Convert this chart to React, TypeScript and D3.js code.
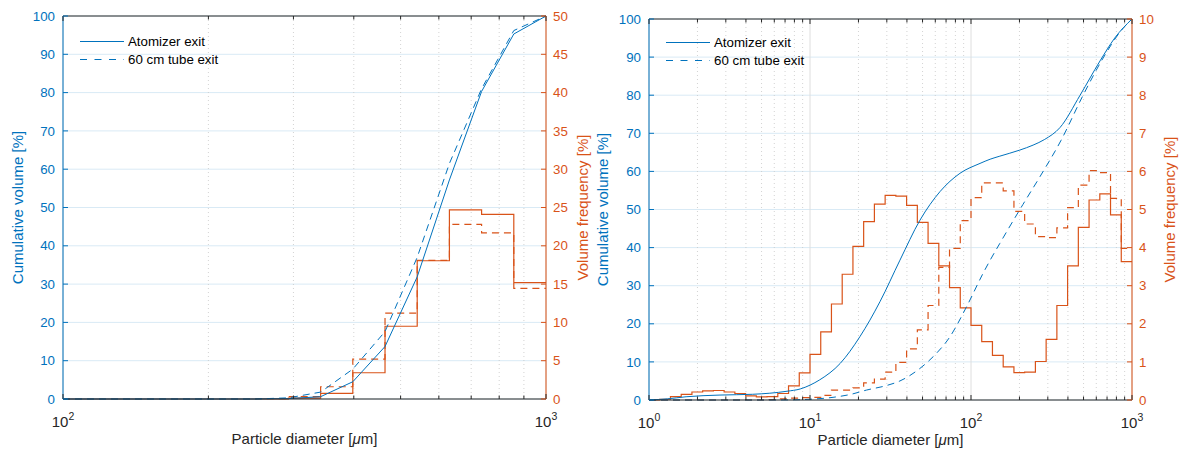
import React from "react";
import * as d3 from "d3";

const BLUE = "#0072BD";
const ORANGE = "#D95319";
const DARK = "#262626";
const FONT = "'Liberation Sans', Arial, Helvetica, sans-serif";

const seriesNames = ["Atomizer exit", "60 cm tube exit"];
const xLabelParts = ["Particle diameter [", "\u03bc", "m]"];
const yLeftLabel = "Cumulative volume [%]";
const yRightLabel = "Volume frequency [%]";

// ---------- left panel data ----------
const leftBinEdges = [100, 116.6, 135.9, 158.5, 184.8, 215.4, 251.2, 292.9, 341.5, 398.1, 464.2, 541.2, 631.0, 735.6, 857.7, 1000];
const leftFreqAtomizer = [0, 0, 0, 0, 0, 0, 0.02, 0.12, 0.74, 3.43, 9.5, 18.05, 24.7, 24.1, 15.2];
const leftFreqTube = [0, 0, 0, 0, 0, 0, 0.05, 0.3, 1.6, 5.2, 11.2, 18.1, 22.8, 21.7, 14.45];
const leftCumAtomizerD = [100, 250, 292.9, 341.5, 398.1, 464.2, 541.2, 631.0, 735.6, 857.7, 1000];
const leftCumAtomizerV = [0, 0, 0.1, 0.6, 4.5, 13.7, 31.9, 57.2, 80.3, 95.3, 100];
const leftCumTubeD = [100, 250, 292.9, 341.5, 398.1, 464.2, 541.2, 631.0, 735.6, 857.7, 1000];
const leftCumTubeV = [0, 0, 0.3, 1.8, 7.8, 17.6, 37.0, 61.5, 81.0, 96.2, 100];
const leftYTicks = [0, 10, 20, 30, 40, 50, 60, 70, 80, 90, 100];
const leftRTicks = [0, 5, 10, 15, 20, 25, 30, 35, 40, 45, 50];

// ---------- right panel data ----------
const rightBinEdges = [1, 1.166, 1.359, 1.585, 1.848, 2.154, 2.512, 2.929, 3.415, 3.981, 4.642, 5.412, 6.31, 7.356, 8.577,
  10, 11.66, 13.59, 15.85, 18.48, 21.54, 25.12, 29.29, 34.15, 39.81, 46.42, 54.12, 63.1, 73.56, 85.77,
  100, 116.6, 135.9, 158.5, 184.8, 215.4, 251.2, 292.9, 341.5, 398.1, 464.2, 541.2, 631.0, 735.6, 857.7, 1000];
const rightFreqAtomizer = [0, 0.02, 0.09, 0.15, 0.21, 0.24, 0.25, 0.21, 0.17, 0.11, 0.08, 0.09, 0.17, 0.37, 0.71,
  1.2, 1.79, 2.52, 3.3, 4.03, 4.68, 5.14, 5.37, 5.35, 5.11, 4.66, 4.11, 3.52, 2.95, 2.42,
  1.96, 1.53, 1.17, 0.87, 0.72, 0.73, 1.01, 1.59, 2.48, 3.52, 4.53, 5.25, 5.41, 4.86, 3.63];
const rightFreqTube = [0, 0, 0, 0, 0, 0, 0, 0, 0, 0, 0, 0.01, 0.03, 0.05, 0.06,
  0.07, 0.12, 0.26, 0.26, 0.32, 0.45, 0.55, 0.73, 0.99, 1.34, 1.84, 2.48, 3.48, 3.98, 4.71,
  5.31, 5.7, 5.7, 5.49, 4.95, 4.62, 4.29, 4.26, 4.52, 5.05, 5.64, 6.02, 5.97, 5.29, 3.98];
const rightCumAtomizerD = [1, 1.3, 1.7, 2.76, 4.4, 7.2, 8.7, 10, 11.5, 15.4, 20.4, 27.2, 36.2, 48.2, 64.2, 85.4, 113.8, 131.5, 151, 201, 243, 287, 357, 476, 633, 781, 1000];
const rightCumAtomizerV = [0, 0.3, 0.85, 1.3, 1.5, 2.3, 2.9, 3.9, 5.3, 9.6, 16.6, 25.8, 36.7, 47.2, 54.7, 59.5, 62.1, 63.2, 64.0, 65.6, 66.9, 68.4, 71.5, 80, 89, 95, 100];
const rightCumTubeD = [1, 5, 8, 10, 13.9, 18, 22.4, 29.9, 36.2, 48.2, 58.3, 74, 93.9, 119, 131.5, 151, 210, 268, 363, 497, 667, 850, 1000];
const rightCumTubeV = [0, 0, 0.05, 0.2, 0.7, 1.5, 2.6, 3.8, 5.0, 8.3, 11.4, 16.6, 24.5, 33.3, 36.7, 41.1, 51.3, 58.6, 68.2, 80, 90, 96.8, 100];
const rightYTicks = [0, 10, 20, 30, 40, 50, 60, 70, 80, 90, 100];
const rightRTicks = [0, 1, 2, 3, 4, 5, 6, 7, 8, 9, 10];

type PanelProps = {
  x0: number; x1: number; y0: number; y1: number;
  xDomain: [number, number];
  rMax: number; rTicks: number[]; yTicks: number[];
  edges: number[]; freqA: number[]; freqT: number[];
  cumAD: number[]; cumAV: number[]; cumTD: number[]; cumTV: number[];
  smooth: boolean;
  legendX: number; legendY: number;
  yLabelX: number; rLabelX: number;
};

function Panel(p: PanelProps) {
  const x = d3.scaleLog().domain(p.xDomain).range([p.x0, p.x1]);
  const yL = d3.scaleLinear().domain([0, 100]).range([p.y1, p.y0]);
  const yR = d3.scaleLinear().domain([0, p.rMax]).range([p.y1, p.y0]);
  const all = x.ticks();
  const isMajor = (t: number) => Math.abs(Math.log10(t) - Math.round(Math.log10(t))) < 1e-9;
  const majors = all.filter(isMajor);
  const minors = all.filter((t) => !isMajor(t));

  const stairs = (vals: number[]) => {
    const pts: [number, number][] = p.edges.map((e, i) => [e, vals[Math.min(i, vals.length - 1)]]);
    return d3.line<[number, number]>().x((d) => x(d[0])).y((d) => yR(d[1])).curve(d3.curveStepAfter)(pts) || "";
  };
  const cum = (ds: number[], vs: number[]) => {
    const pts: [number, number][] = ds.map((d, i) => [d, vs[i]]);
    return d3.line<[number, number]>().x((d) => x(d[0])).y((d) => yL(d[1]))
      .curve(p.smooth ? d3.curveMonotoneX : d3.curveLinear)(pts) || "";
  };
  const midY = (p.y0 + p.y1) / 2;

  return (
    <g fontFamily={FONT}>
      {p.yTicks.map((t) => (
        <line key={"hg" + t} x1={p.x0} x2={p.x1} y1={yL(t)} y2={yL(t)} stroke="#d9eaf5" strokeWidth={1} />
      ))}
      {minors.map((t) => (
        <line key={"vm" + t} x1={x(t)} x2={x(t)} y1={p.y0} y2={p.y1} stroke="#c8c8c8" strokeWidth={0.8} strokeDasharray="1,3" />
      ))}
      {majors.map((t) => (
        <line key={"vM" + t} x1={x(t)} x2={x(t)} y1={p.y0} y2={p.y1} stroke="#dedede" strokeWidth={1} />
      ))}

      <path d={stairs(p.freqT)} fill="none" stroke={ORANGE} strokeWidth={1.2} strokeDasharray="7,5" />
      <path d={stairs(p.freqA)} fill="none" stroke={ORANGE} strokeWidth={1.2} />

      <path d={cum(p.cumTD, p.cumTV)} fill="none" stroke={BLUE} strokeWidth={1} strokeDasharray="7,5" />
      <path d={cum(p.cumAD, p.cumAV)} fill="none" stroke={BLUE} strokeWidth={1} />

      <line x1={p.x0} x2={p.x1} y1={p.y1} y2={p.y1} stroke={DARK} strokeWidth={1} />
      <line x1={p.x0} x2={p.x1} y1={p.y0} y2={p.y0} stroke={DARK} strokeWidth={1} />
      <line x1={p.x0} x2={p.x0} y1={p.y0} y2={p.y1} stroke={BLUE} strokeWidth={1} />
      <line x1={p.x1} x2={p.x1} y1={p.y0} y2={p.y1} stroke={ORANGE} strokeWidth={1} />

      {all.map((t) => {
        const len = isMajor(t) ? 5 : 3.5;
        return (
          <g key={"xt" + t}>
            <line x1={x(t)} x2={x(t)} y1={p.y1} y2={p.y1 - len} stroke={DARK} strokeWidth={1} />
            <line x1={x(t)} x2={x(t)} y1={p.y0} y2={p.y0 + len} stroke={DARK} strokeWidth={1} />
          </g>
        );
      })}
      {majors.map((t) => (
        <text key={"xl" + t} x={x(t)} y={p.y1 + 28} textAnchor="middle" fontSize={15} fill={DARK}>
          10<tspan dy={-7} fontSize={10.5}>{Math.round(Math.log10(t))}</tspan>
        </text>
      ))}
      <text x={(p.x0 + p.x1) / 2} y={p.y1 + 45} textAnchor="middle" fontSize={15} fill={DARK}>
        {xLabelParts[0]}<tspan fontStyle="italic">{xLabelParts[1]}</tspan>{xLabelParts[2]}
      </text>

      {p.yTicks.map((t) => (
        <g key={"yl" + t}>
          <line x1={p.x0} x2={p.x0 + 5} y1={yL(t)} y2={yL(t)} stroke={BLUE} strokeWidth={1} />
          <text x={p.x0 - 8} y={yL(t)} dy="0.35em" textAnchor="end" fontSize={13.3} fill={BLUE}>{t}</text>
        </g>
      ))}
      {p.rTicks.map((t) => (
        <g key={"yr" + t}>
          <line x1={p.x1} x2={p.x1 - 5} y1={yR(t)} y2={yR(t)} stroke={ORANGE} strokeWidth={1} />
          <text x={p.x1 + 7} y={yR(t)} dy="0.35em" textAnchor="start" fontSize={13.3} fill={ORANGE}>{t}</text>
        </g>
      ))}
      <text transform={`translate(${p.yLabelX},${midY}) rotate(-90)`} textAnchor="middle" fontSize={15} fill={BLUE}>
        {yLeftLabel}
      </text>
      <text transform={`translate(${p.rLabelX},${midY}) rotate(-90)`} textAnchor="middle" fontSize={15} fill={ORANGE}>
        {yRightLabel}
      </text>

      {seriesNames.map((n, i) => {
        const ly = p.legendY + i * 18;
        return (
          <g key={"lg" + i}>
            <line x1={p.legendX} x2={p.legendX + 44} y1={ly} y2={ly} stroke={BLUE} strokeWidth={1}
              strokeDasharray={i === 1 ? "7,7.5" : undefined} />
            <text x={p.legendX + 48} y={ly} dy="0.35em" fontSize={13.3} fill="#000">{n}</text>
          </g>
        );
      })}
    </g>
  );
}

export default function App() {
  return (
    <svg width={1189} height={450} style={{ position: "absolute", left: 0, top: 0, background: "#fff" }}>
      <rect x={0} y={0} width={1189} height={450} fill="#fff" />
      <Panel x0={63} x1={546} y0={16} y1={399} xDomain={[100, 1000]}
        rMax={50} rTicks={leftRTicks} yTicks={leftYTicks}
        edges={leftBinEdges} freqA={leftFreqAtomizer} freqT={leftFreqTube}
        cumAD={leftCumAtomizerD} cumAV={leftCumAtomizerV} cumTD={leftCumTubeD} cumTV={leftCumTubeV}
        smooth={false} legendX={80} legendY={41.5} yLabelX={23} rLabelX={588} />
      <Panel x0={649} x1={1132} y0={19} y1={400} xDomain={[1, 1000]}
        rMax={10} rTicks={rightRTicks} yTicks={rightYTicks}
        edges={rightBinEdges} freqA={rightFreqAtomizer} freqT={rightFreqTube}
        cumAD={rightCumAtomizerD} cumAV={rightCumAtomizerV} cumTD={rightCumTubeD} cumTV={rightCumTubeV}
        smooth={true} legendX={666} legendY={42.5} yLabelX={608} rLabelX={1175} />
    </svg>
  );
}
